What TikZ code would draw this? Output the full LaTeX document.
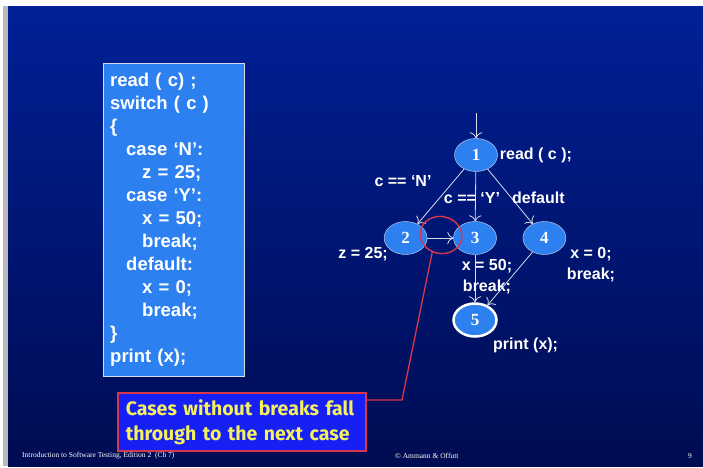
\documentclass[tikz,border=0pt]{standalone}
\usepackage{fontspec}
\setmainfont{Liberation Serif}
\setsansfont{Liberation Sans}
\newfontfamily\notefont{Fira Sans}
\usetikzlibrary{positioning, arrows.meta, shapes.geometric}
\definecolor{slidetop}{RGB}{0,32,150}
\definecolor{slidebot}{RGB}{0,12,82}
\definecolor{codeblue}{RGB}{45,128,240}
\definecolor{noteblue}{RGB}{22,32,245}
\definecolor{notered}{RGB}{215,55,75}
\definecolor{noteyellow}{RGB}{245,240,95}
\definecolor{edgegray}{RGB}{215,220,235}

\begin{document}
\begin{tikzpicture}[x=1pt, y=-1pt,
  code/.style={draw=edgegray, fill=codeblue, text=white, align=left,
               font=\fontsize{18.5}{23}\sffamily\bfseries, text width=127pt,
               inner xsep=7pt, inner ysep=10pt},
  vtx/.style={ellipse, draw=edgegray, fill=codeblue, text=white,
              minimum width=43pt, minimum height=33pt, inner sep=0pt,
              font=\fontsize{17}{17}\rmfamily\bfseries},
  lbl/.style={text=white, inner sep=1pt, align=center,
              font=\fontsize{16}{21}\sffamily\bfseries},
  arr/.style={-{To[length=6pt]}, draw=edgegray, line width=0.8pt},
  note/.style={draw=notered, line width=1.6pt, fill=noteblue, text=noteyellow,
               align=left, text width=232pt, inner xsep=8pt, minimum height=58pt,
               font=\fontsize{19.5}{25}\notefont\bfseries},
  foot/.style={text=white, inner sep=0pt, font=\fontsize{7.5}{8}\rmfamily}]
  \useasboundingbox (0,0) rectangle (703,467);
  % slide background
  \fill[gray!55] (3,6) rectangle (8,466);
  \shade[top color=slidetop, bottom color=slidebot] (8,6) rectangle (703,466);
  % source code
  \node[code, anchor=north west] (src) at (103,63)
    {read ( c) ;\\switch ( c )\\\{\\
     \hspace*{16pt}case ‘N’:\\\hspace*{32pt}z = 25;\\
     \hspace*{16pt}case ‘Y’:\\\hspace*{32pt}x = 50;\\\hspace*{32pt}break;\\
     \hspace*{16pt}default:\\\hspace*{32pt}x = 0;\\\hspace*{32pt}break;\\
     \}\\print (x);};
  % graph
  \node[vtx] (n1) at (476,155) {1};
  \node[vtx] (n3) at (475,238) {3};
  \node[vtx, left=26pt of n3] (n2) {2};
  \node[vtx, right=26pt of n3] (n4) {4};
  \node[vtx, draw=white, line width=2.5pt] (n5) at (475,320) {5};
  \coordinate (entry) at (476,113);
  \draw[arr] (entry) -- (n1);
  \draw[arr] (n1) -- (n2); \draw[arr] (n1) -- (n3); \draw[arr] (n1) -- (n4);
  \draw[arr] (n2) -- (n3); \draw[arr] (n3) -- (n5); \draw[arr] (n4) -- (n5);
  \node[lbl, right=1pt of n1] (l1) {read ( c );};
  \node[lbl] (lN) at (403,181) {c == ‘N’};
  \node[lbl] (lY) at (472,198) {c == ‘Y’};
  \node[lbl, anchor=west] (ldef) at (511,198) {default};
  \node[lbl, anchor=east] (l2) at (389,254) {z = 25;};
  \node[lbl] (l3) at (487,277) {x = 50;\\break;};
  \node[lbl] (l4) at (591,265) {x = 0;\\break;};
  \node[lbl, anchor=west] (l5) at (492,345) {print (x);};
  % callout
  \node[ellipse, draw=notered, line width=1.4pt, minimum width=42pt,
        minimum height=37pt, rotate=-12] (ring) at (441,235) {};
  \node[note, anchor=north west] (msg) at (117,392)
    {Cases without breaks fall\\through to the next case};
  \coordinate (bend) at (402,400);
  \draw[notered, line width=1.3pt] (ring.255) -- (bend) -- (msg.east |- bend);
  % footer
  \node[foot, anchor=west] (ft1) at (22,456) {Introduction to Software Testing, Edition 2\enspace(Ch 7)};
  \node[foot, anchor=west] (ft2) at (395,456) {© Ammann \& Offutt};
  \node[foot] (ft3) at (690,456) {9};
\end{tikzpicture}
\end{document}
